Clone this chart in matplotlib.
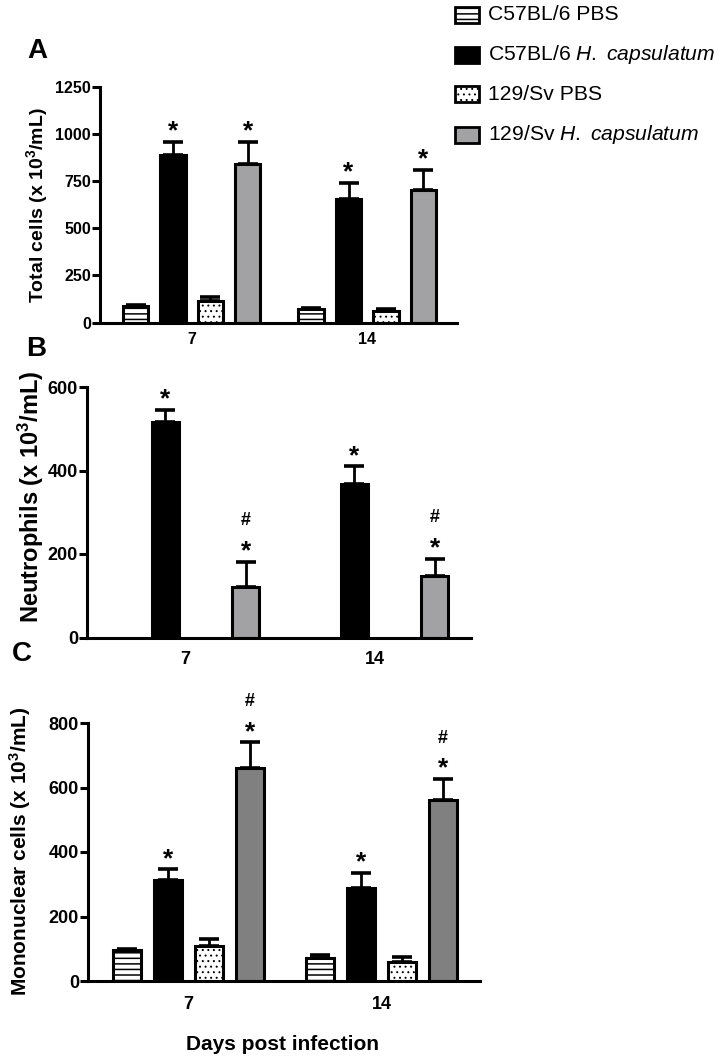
import numpy as np
import matplotlib.pyplot as plt
from matplotlib.patches import Rectangle

plt.rcParams['font.family'] = 'Liberation Sans'
plt.rcParams['mathtext.fontset'] = 'custom'
plt.rcParams['mathtext.rm'] = 'Liberation Sans'
plt.rcParams['mathtext.it'] = 'Liberation Sans:italic'
plt.rcParams['mathtext.bf'] = 'Liberation Sans:bold'

days = ['7', '14']
groups = ['C57BL/6 PBS', 'C57BL/6 $\\mathit{H.\\ capsulatum}$',
          '129/Sv PBS', '129/Sv $\\mathit{H.\\ capsulatum}$']

# panel A - total cells
total_b6_pbs = [88, 72]
total_b6_hc = [890, 657]
total_sv_pbs = [115, 60]
total_sv_hc = [840, 705]
total_b6_pbs_err = [6, 6]
total_b6_hc_err = [68, 82]
total_sv_pbs_err = [20, 14]
total_sv_hc_err = [118, 106]

# panel B - neutrophils (PBS groups not shown)
neut_b6_hc = [515, 368]
neut_sv_hc = [120, 148]
neut_b6_hc_err = [31, 42]
neut_sv_hc_err = [62, 41]

# panel C - mononuclear cells
mono_b6_pbs = [95, 70]
mono_b6_hc = [312, 288]
mono_sv_pbs = [110, 58]
mono_sv_hc = [662, 560]
mono_b6_pbs_err = [4, 10]
mono_b6_hc_err = [34, 47]
mono_sv_pbs_err = [20, 15]
mono_sv_hc_err = [78, 66]

W, H = 723, 1059
fig = plt.figure(figsize=(W / 100, H / 100), dpi=100)


def fig_ax(left, top, right, bottom):
    return fig.add_axes([left / W, 1 - bottom / H, (right - left) / W, (bottom - top) / H])


centers = np.array([0.0, 4.7])
offsets = [-1.5, -0.5, 0.5, 1.5]
width = 0.68
hatches = ['---', None, '...', None]
hatch_lw = [1.1, 1.0, 0.7, 1.0]


def panel(ax, series, errs, grey, ymax, ticks, fs, xpad, marks):
    fills = ['white', 'black', 'white', grey]
    for i, (vals, err) in enumerate(zip(series, errs)):
        if vals is None:
            continue
        x = centers + offsets[i]
        with plt.rc_context({'hatch.linewidth': hatch_lw[i]}):
            ax.bar(x, vals, width, color=fills[i], edgecolor='black', hatch=hatches[i],
                   linewidth=2.2, zorder=2)
        ax.errorbar(x, vals, yerr=[np.zeros(len(vals)), err], fmt='none', ecolor='black',
                    elinewidth=2.0, capsize=7, capthick=2.6, zorder=3)
        for j in range(len(vals)):
            m = marks[i][j] if marks[i] else ''
            top = vals[j] + err[j]
            if '*' in m:
                ax.annotate('*', (x[j], top), xytext=(0, 2.5), textcoords='offset points',
                            ha='center', va='baseline', fontsize=19, fontweight='bold')
            if '#' in m:
                ax.annotate('#', (x[j], top), xytext=(0, 26), textcoords='offset points',
                            ha='center', va='baseline', fontsize=13, fontweight='bold')
    ax.set_xlim(-2.45, 7.1)
    ax.set_ylim(0, ymax)
    ax.set_yticks(ticks)
    ax.set_xticks(centers)
    ax.set_xticklabels(days)
    for s in ['top', 'right']:
        ax.spines[s].set_visible(False)
    for s in ['left', 'bottom']:
        ax.spines[s].set_linewidth(2.2)
    ax.tick_params(axis='y', length=6, width=2.2, pad=0.5, labelsize=fs)
    ax.tick_params(axis='x', length=0, pad=xpad, labelsize=fs)
    for lab in ax.get_xticklabels() + ax.get_yticklabels():
        lab.set_fontweight('bold')


star = ['*', '*']
both = ['*#', '*#']

axA = fig_ax(100, 86.7, 457, 322.7)
panel(axA, [total_b6_pbs, total_b6_hc, total_sv_pbs, total_sv_hc],
      [total_b6_pbs_err, total_b6_hc_err, total_sv_pbs_err, total_sv_hc_err],
      '#a2a2a5', 1250, [0, 250, 500, 750, 1000, 1250], 11.5, 6.5,
      [None, star, None, star])

axB = fig_ax(87, 387, 471, 637.5)
panel(axB, [None, neut_b6_hc, None, neut_sv_hc],
      [None, neut_b6_hc_err, None, neut_sv_hc_err],
      '#a2a2a5', 600, [0, 200, 400, 600], 13, 9.5,
      [None, star, None, both])

axC = fig_ax(88, 723, 480, 981)
panel(axC, [mono_b6_pbs, mono_b6_hc, mono_sv_pbs, mono_sv_hc],
      [mono_b6_pbs_err, mono_b6_hc_err, mono_sv_pbs_err, mono_sv_hc_err],
      '#808080', 800, [0, 200, 400, 600, 800], 13, 11,
      [None, star, None, both])

# y labels
fig.text(37 / W, 1 - 205 / H, 'Total cells (x 10$^{\\mathbf{3}}$/mL)', rotation=90,
         ha='center', va='center', fontsize=14, fontweight='bold')
fig.text(31 / W, 1 - 497 / H, 'Neutrophils (x 10$^{\\mathbf{3}}$/mL)', rotation=90,
         ha='center', va='center', fontsize=17, fontweight='bold')
fig.text(20 / W, 1 - 851 / H, 'Mononuclear cells (x 10$^{\\mathbf{3}}$/mL)', rotation=90,
         ha='center', va='center', fontsize=15, fontweight='bold')
fig.text(283 / W, 1 - 1044 / H, 'Days post infection', ha='center', va='center',
         fontsize=15, fontweight='bold')

# panel letters
for letter, px, py in [('A', 37, 51), ('B', 36, 349), ('C', 22, 654)]:
    fig.text(px / W, 1 - py / H, letter, ha='center', va='center', fontsize=20, fontweight='bold')

# legend
leg_fills = ['white', 'black', 'white', '#a2a2a5']
for i, (lab, yc) in enumerate(zip(groups, [15, 55, 94, 135])):
    with plt.rc_context({'hatch.linewidth': hatch_lw[i]}):
        fig.add_artist(Rectangle((455 / W, 1 - (yc + 7.5) / H), 24 / W, 15 / H,
                                 transform=fig.transFigure, facecolor=leg_fills[i],
                                 edgecolor='black', hatch=hatches[i], linewidth=2.0))
    fig.text(488 / W, 1 - yc / H, lab, ha='left', va='center', fontsize=15.2)

fig.savefig('out.png', dpi=100)
